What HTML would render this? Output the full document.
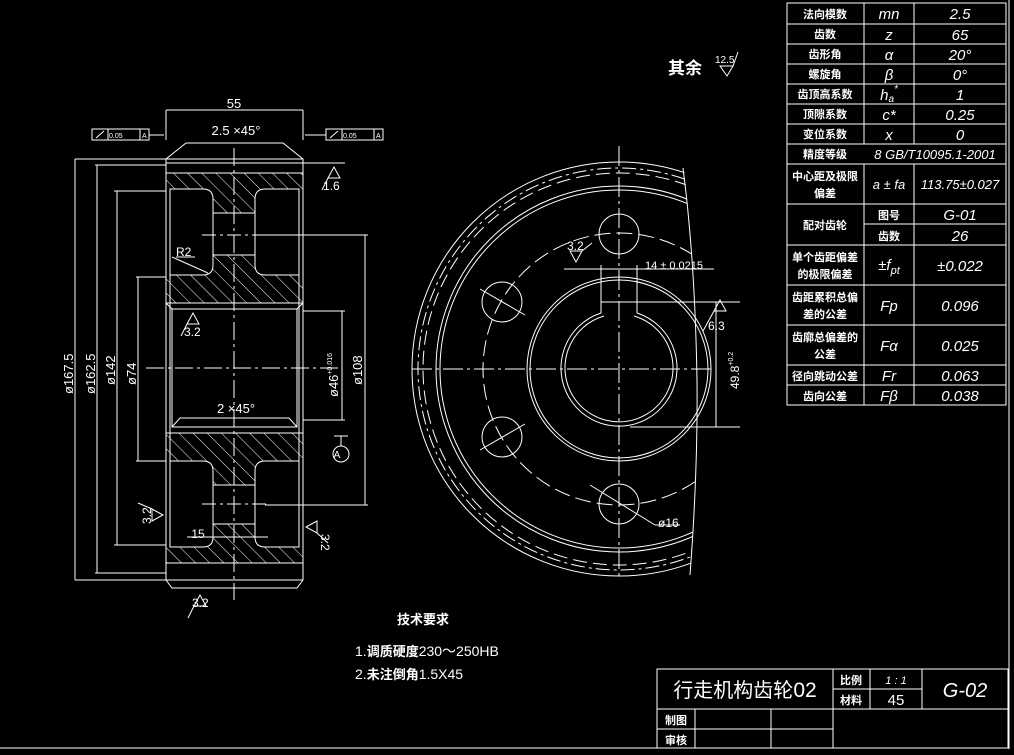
<!DOCTYPE html>
<html><head><meta charset="utf-8"><style>
html,body{margin:0;padding:0;background:#000;width:1014px;height:755px;overflow:hidden}
svg{display:block}
text{fill:#fff;font-family:"Liberation Sans","Noto Sans CJK SC",sans-serif}
.c{font-family:"Noto Sans CJK SC","WenQuanYi Zen Hei",sans-serif;font-weight:bold;font-size:11px}
.i{font-style:italic;font-size:15px}
</style></head><body>
<svg width="1014" height="755" viewBox="0 0 1014 755" xmlns="http://www.w3.org/2000/svg">
<defs>
<pattern id="h" width="10" height="10" patternUnits="userSpaceOnUse" patternTransform="rotate(-45)">
<line x1="0" y1="0" x2="0" y2="10" stroke="#fff" stroke-width="1"/></pattern>
<clipPath id="cut"><path d="M300 100 L683 160 Q695 260 697 380 Q698 470 690 580 L300 640 Z"/></clipPath>
</defs>
<g stroke="#fff" fill="none" stroke-width="1">
<!-- frame -->
<line x1="1009" y1="0" x2="1009" y2="749"/>
<line x1="0" y1="748" x2="1009" y2="748"/>
<!-- table -->
<rect x="787" y="3" width="219" height="402"/>
<g>
<line x1="787" y1="24" x2="1006" y2="24"/><line x1="787" y1="44" x2="1006" y2="44"/>
<line x1="787" y1="64" x2="1006" y2="64"/><line x1="787" y1="84" x2="1006" y2="84"/>
<line x1="787" y1="104" x2="1006" y2="104"/><line x1="787" y1="124" x2="1006" y2="124"/>
<line x1="787" y1="144" x2="1006" y2="144"/><line x1="787" y1="164" x2="1006" y2="164"/>
<line x1="787" y1="204" x2="1006" y2="204"/><line x1="864" y1="224" x2="1006" y2="224"/>
<line x1="787" y1="245" x2="1006" y2="245"/><line x1="787" y1="285" x2="1006" y2="285"/>
<line x1="787" y1="325" x2="1006" y2="325"/><line x1="787" y1="365" x2="1006" y2="365"/>
<line x1="787" y1="385" x2="1006" y2="385"/>
<line x1="864" y1="3" x2="864" y2="144"/><line x1="864" y1="164" x2="864" y2="405"/>
<line x1="914" y1="3" x2="914" y2="144"/><line x1="914" y1="164" x2="914" y2="405"/>
</g>
<!-- title block -->
<rect x="657" y="669" width="351" height="79"/>
<line x1="657" y1="709" x2="1008" y2="709"/><line x1="657" y1="729" x2="833" y2="729"/>
<line x1="833" y1="689" x2="922" y2="689"/>
<line x1="695" y1="709" x2="695" y2="748"/><line x1="771" y1="709" x2="771" y2="748"/>
<line x1="833" y1="669" x2="833" y2="748"/><line x1="870" y1="669" x2="870" y2="709"/>
<line x1="922" y1="669" x2="922" y2="709"/>

<!-- LEFT SECTION VIEW -->
<g fill="url(#h)" stroke="none">
<rect x="166" y="173" width="137" height="16"/>
<rect x="213" y="189" width="42" height="24"/>
<rect x="213" y="255" width="42" height="20"/>
<rect x="166" y="275" width="137" height="28"/>
<rect x="166" y="433" width="137" height="28"/>
<rect x="213" y="461" width="42" height="24"/>
<rect x="213" y="524" width="42" height="23"/>
<rect x="166" y="547" width="137" height="16"/>
</g>
<path d="M186 143 L283 143 L303 159 L303 580 L297 588 L172 588 L166 580 L166 159 Z"/>
<line x1="166" y1="159" x2="303" y2="159"/>
<line x1="166" y1="163" x2="303" y2="163"/>
<line x1="166" y1="173" x2="303" y2="173"/>
<line x1="166" y1="563" x2="303" y2="563"/>
<line x1="166" y1="580" x2="303" y2="580"/>
<path d="M170 189 L203 189 Q213 189 213 199 L213 265 Q213 275 203 275 L170 275 Z"/>
<path d="M299 189 L265 189 Q255 189 255 199 L255 265 Q255 275 265 275 L299 275 Z"/>
<path d="M170 461 L203 461 Q213 461 213 471 L213 537 Q213 547 203 547 L170 547 Z"/>
<path d="M299 461 L265 461 Q255 461 255 471 L255 537 Q255 547 265 547 L299 547 Z"/>
<line x1="213" y1="213" x2="255" y2="213"/><line x1="213" y1="255" x2="255" y2="255"/>
<line x1="213" y1="485" x2="255" y2="485"/><line x1="213" y1="524" x2="255" y2="524"/>
<path d="M166 303 L303 303 M172 309 L297 309 L297 427 L172 427 Z M166 433 L303 433"/>
<path d="M172 309 L166 303 M297 309 L303 303 M172 427 L180 418 L289 418 L297 427"/>
<line x1="170" y1="189" x2="170" y2="547"/><line x1="299" y1="189" x2="299" y2="547"/>
<!-- centerlines -->
<line x1="234" y1="148" x2="234" y2="600" stroke-dasharray="18 4 3 4"/>
<line x1="146" y1="368" x2="340" y2="368" stroke-dasharray="18 4 3 4"/>
<line x1="202" y1="235" x2="266" y2="235" stroke-dasharray="14 4 3 4"/>
<line x1="202" y1="504" x2="266" y2="504" stroke-dasharray="14 4 3 4"/>
<!-- dims -->
<line x1="166" y1="110" x2="166" y2="140"/><line x1="303" y1="110" x2="303" y2="140"/>
<line x1="166" y1="110" x2="303" y2="110"/>
<line x1="75" y1="159" x2="166" y2="159"/><line x1="75" y1="580" x2="166" y2="580"/>
<line x1="75" y1="159" x2="75" y2="580"/>
<line x1="95" y1="165" x2="166" y2="165"/><line x1="95" y1="573" x2="166" y2="573"/>
<line x1="97" y1="165" x2="97" y2="573"/>
<line x1="114" y1="191" x2="166" y2="191"/><line x1="114" y1="545" x2="166" y2="545"/>
<line x1="117" y1="191" x2="117" y2="545"/>
<line x1="136" y1="277" x2="166" y2="277"/><line x1="136" y1="461" x2="166" y2="461"/>
<line x1="138" y1="277" x2="138" y2="461"/>
<line x1="303" y1="311" x2="345" y2="311"/><line x1="303" y1="420" x2="345" y2="420"/>
<line x1="342" y1="311" x2="342" y2="420"/>
<line x1="265" y1="235" x2="368" y2="235"/><line x1="265" y1="505" x2="368" y2="505"/>
<line x1="365" y1="235" x2="365" y2="505"/>
<line x1="303" y1="163" x2="345" y2="163"/>
<line x1="187" y1="537" x2="268" y2="537"/>
<!-- tolerance frames -->
<rect x="92" y="129" width="57" height="11"/><line x1="108" y1="129" x2="108" y2="140"/><line x1="140" y1="129" x2="140" y2="140"/>
<line x1="96" y1="138" x2="104" y2="131"/><line x1="149" y1="135" x2="164" y2="135"/>
<rect x="326" y="129" width="57" height="11"/><line x1="342" y1="129" x2="342" y2="140"/><line x1="374" y1="129" x2="374" y2="140"/>
<line x1="330" y1="138" x2="338" y2="131"/><line x1="305" y1="135" x2="326" y2="135"/>
<!-- roughness symbols -->
<path d="M334 167 L328 178 L340 178 Z M328 178 L322 190"/>
<path d="M193 313 L187 324 L199 324 Z M187 324 L181 336"/>
<path d="M200 595 L194 606 L206 606 Z M194 606 L188 618"/>
<path d="M163 515 L152 509 L152 521 Z M152 509 L138 503"/>
<path d="M306 527 L317 521 L317 533 Z M317 533 L328 543"/>
<line x1="172" y1="257" x2="208" y2="273"/><line x1="176" y1="257" x2="195" y2="257"/>
<circle cx="341" cy="454" r="8"/><line x1="341" y1="436" x2="341" y2="446"/><line x1="334" y1="436" x2="348" y2="436"/>

<!-- RIGHT VIEW -->
<g clip-path="url(#cut)">
<circle cx="619" cy="369" r="207"/>
<circle cx="619" cy="369" r="201" stroke-dasharray="14 4 3 4"/>
<circle cx="619" cy="369" r="196" stroke-dasharray="14 6"/>
<circle cx="619" cy="369" r="183"/>
<circle cx="619" cy="369" r="179"/>
<circle cx="619" cy="369" r="136" stroke-dasharray="16 6"/>
</g>
<path d="M683 168 Q695 260 697 380 Q698 470 690 575"/>
<circle cx="619" cy="369" r="92"/><circle cx="619" cy="369" r="89"/>
<path d="M601 302 L601 313 A58 58 0 1 0 637 313 L637 302 Z"/>
<path d="M604 316 A54 54 0 1 0 634 316"/>
<circle cx="619" cy="234" r="20"/><circle cx="619" cy="504" r="20"/>
<circle cx="502" cy="302" r="20"/><circle cx="502" cy="437" r="20"/>
<line x1="619" y1="146" x2="619" y2="580" stroke-dasharray="20 4 3 4"/>
<line x1="412" y1="369" x2="715" y2="369" stroke-dasharray="20 4 3 4"/>
<line x1="480" y1="289" x2="525" y2="315"/><line x1="480" y1="450" x2="525" y2="424"/>
<line x1="590" y1="485" x2="655" y2="525"/><line x1="655" y1="525" x2="680" y2="525"/>
<line x1="564" y1="269" x2="714" y2="269"/>
<line x1="601" y1="265" x2="601" y2="302"/><line x1="637" y1="265" x2="637" y2="302"/>
<line x1="637" y1="302" x2="740" y2="302"/><line x1="630" y1="427" x2="740" y2="427"/>
<line x1="716" y1="302" x2="716" y2="427"/>
<path d="M720 300 L714 311 L726 311 Z M714 311 L703 331"/>
<path d="M576 262 L570 251 L582 251 Z M582 251 L592 243"/>
</g>

<!-- texts -->
<text x="234" y="108" font-size="13" text-anchor="middle">55</text>
<text x="236" y="135" font-size="13" text-anchor="middle">2.5 ×45°</text>
<text x="236" y="413" font-size="13" text-anchor="middle">2 ×45°</text>
<text x="198" y="538" font-size="12" text-anchor="middle">15</text>
<text x="176" y="256" font-size="12">R2</text>
<text x="323" y="190" font-size="12">1.6</text>
<text x="184" y="336" font-size="12">3.2</text>
<text x="192" y="607" font-size="12">3.2</text>
<text font-size="12" transform="translate(151,524) rotate(-90)">3.2</text>
<text font-size="12" transform="translate(321,534) rotate(90)">3.2</text>
<text x="337" y="458" font-size="10" text-anchor="middle">A</text>
<g font-size="7"><text x="109" y="138">0.05</text><text x="142" y="138">A</text><text x="343" y="138">0.05</text><text x="376" y="138">A</text></g>
<text font-size="13" transform="translate(73,394) rotate(-90)">ø167.5</text>
<text font-size="13" transform="translate(95,394) rotate(-90)">ø162.5</text>
<text font-size="13" transform="translate(115,385) rotate(-90)">ø142</text>
<text font-size="13" transform="translate(136,385) rotate(-90)">ø74</text>
<text font-size="13" transform="translate(338,397) rotate(-90)">ø46<tspan font-size="7" dy="-6">+0.016</tspan></text>
<text font-size="13" transform="translate(362,385) rotate(-90)">ø108</text>
<text x="645" y="269" font-size="11">14 ± 0.0215</text>
<text x="567" y="250" font-size="12">3.2</text>
<text x="708" y="330" font-size="12">6.3</text>
<text x="658" y="527" font-size="12">ø16</text>
<text font-size="12" transform="translate(739,389) rotate(-90)">49.8<tspan font-size="7" dy="-6">+0.2</tspan></text>
<text x="668" y="74" font-size="17" class="c" style="font-size:17px">其余</text>
<text x="715" y="63" font-size="10">12.5</text>
<path d="M720 66 L733 66 L727 76 Z M733 66 L738 52" stroke="#fff" fill="none"/>
<text x="423" y="624" class="c" style="font-size:13px" text-anchor="middle">技术要求</text>
<text x="355" y="656" font-size="14">1.<tspan class="c" style="font-size:13px">调质硬度</tspan>230～250HB</text>
<text x="355" y="679" font-size="14">2.<tspan class="c" style="font-size:13px">未注倒角</tspan>1.5X45</text>
<text x="745" y="697" font-size="21" text-anchor="middle"><tspan class="c" style="font-size:20px;font-weight:normal">行走机构齿轮</tspan>02</text>
<text x="851" y="684" class="c" text-anchor="middle">比例</text>
<text x="851" y="704" class="c" text-anchor="middle">材料</text>
<text x="896" y="684" font-size="11" font-style="italic" text-anchor="middle">1 : 1</text>
<text x="896" y="705" font-size="15" text-anchor="middle">45</text>
<text x="965" y="697" font-size="20" font-style="italic" text-anchor="middle">G-02</text>
<text x="676" y="724" class="c" text-anchor="middle">制图</text>
<text x="676" y="744" class="c" text-anchor="middle">审核</text>

<g text-anchor="middle">
<text x="825" y="18" class="c">法向模数</text><text x="889" y="19" class="i">mn</text><text x="960" y="19" class="i">2.5</text>
<text x="825" y="38" class="c">齿数</text><text x="889" y="40" class="i">z</text><text x="960" y="40" class="i">65</text>
<text x="825" y="58" class="c">齿形角</text><text x="889" y="60" class="i">α</text><text x="960" y="60" class="i">20°</text>
<text x="825" y="78" class="c">螺旋角</text><text x="889" y="80" class="i">β</text><text x="960" y="80" class="i">0°</text>
<text x="825" y="98" class="c">齿顶高系数</text><text x="889" y="100" class="i">h<tspan font-size="10" dy="2">a</tspan><tspan font-size="10" dy="-10">*</tspan></text><text x="960" y="100" class="i">1</text>
<text x="825" y="118" class="c">顶隙系数</text><text x="889" y="120" class="i">c*</text><text x="960" y="120" class="i">0.25</text>
<text x="825" y="138" class="c">变位系数</text><text x="889" y="140" class="i">x</text><text x="960" y="140" class="i">0</text>
<text x="825" y="158" class="c">精度等级</text><text x="935" y="159" class="i" style="font-size:13px">8  GB/T10095.1-2001</text>
<text x="825" y="180" class="c">中心距及极限</text><text x="825" y="197" class="c">偏差</text>
<text x="889" y="189" class="i" style="font-size:13px">a ± fa</text><text x="960" y="189" class="i" style="font-size:13px">113.75±0.027</text>
<text x="825" y="229" class="c">配对齿轮</text>
<text x="889" y="219" class="c">图号</text><text x="889" y="240" class="c">齿数</text>
<text x="960" y="220" class="i">G-01</text><text x="960" y="241" class="i">26</text>
<text x="825" y="261" class="c">单个齿距偏差</text><text x="825" y="278" class="c">的极限偏差</text>
<text x="889" y="270" class="i">±f<tspan font-size="11" dy="4">pt</tspan></text><text x="960" y="271" class="i">±0.022</text>
<text x="825" y="301" class="c">齿距累积总偏</text><text x="825" y="318" class="c">差的公差</text>
<text x="889" y="311" class="i">Fp</text><text x="960" y="311" class="i">0.096</text>
<text x="825" y="341" class="c">齿廓总偏差的</text><text x="825" y="358" class="c">公差</text>
<text x="889" y="351" class="i">Fα</text><text x="960" y="351" class="i">0.025</text>
<text x="825" y="380" class="c">径向跳动公差</text><text x="889" y="381" class="i">Fr</text><text x="960" y="381" class="i">0.063</text>
<text x="825" y="400" class="c">齿向公差</text><text x="889" y="401" class="i">Fβ</text><text x="960" y="401" class="i">0.038</text>
</g>
</svg>
</body></html>
